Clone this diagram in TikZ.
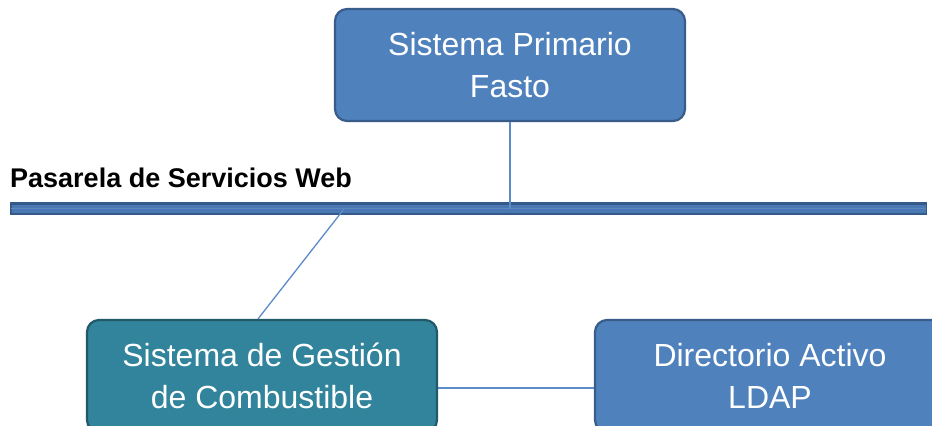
\documentclass[tikz,border=0pt]{standalone}
\usepackage{fontspec}
\setmainfont{Liberation Sans}
\definecolor{boxblue}{HTML}{4F81BD}
\definecolor{boxblueline}{HTML}{385D8A}
\definecolor{boxteal}{HTML}{31849B}
\definecolor{boxtealline}{HTML}{215968}
\definecolor{linkblue}{HTML}{5B8BC9}
\definecolor{bardark}{HTML}{345A8A}
\definecolor{barmid}{HTML}{4A78B2}
\definecolor{barlight}{HTML}{5C88C0}
\tikzset{
  sysbox/.style={rectangle, rounded corners=12bp, minimum width=350bp, minimum height=112bp,
    inner sep=0pt, line width=2.2bp, text=white, align=center,
    font=\fontsize{32bp}{42bp}\selectfont},
  bluebox/.style={sysbox, fill=boxblue, draw=boxblueline},
  tealbox/.style={sysbox, fill=boxteal, draw=boxtealline},
  link/.style={draw=linkblue, line width=1.3bp},
}
\begin{document}
\begin{tikzpicture}[x=1bp,y=-1bp]
\useasboundingbox (0,0) rectangle (932,425);
\clip (0,0) rectangle (932,425);
\fill[white] (0,0) rectangle (932,425);
% bar
\coordinate (barL) at (11,208.5);
\coordinate (barR) at (926,208.5);
\coordinate (barA) at (510,209);
\coordinate (barB) at (344,209);
\fill[bardark] (10,202) rectangle (927,215);
\fill[barmid] (11.5,204.5) rectangle (925.5,212.5);
\draw[line width=0.7bp, draw=barlight] (barL) -- (barR);
\node[anchor=base west, inner sep=0pt, font=\fontsize{27bp}{30bp}\selectfont\bfseries] (gw) at (10,187) {Pasarela de Servicios Web};
% boxes
\node[bluebox] (fasto) at (510,65) {Sistema Primario\\Fasto};
\node[tealbox] (sgc) at (262,376) {Sistema de Gestión\\de Combustible};
\node[bluebox] (ldap) at (770,376) {Directorio Activo\\LDAP};
% connectors
\draw[link] (fasto.south) -- (barA);
\draw[link] (barB) -- ([xshift=-4bp]sgc.north);
\draw[link] (sgc.east |- 0,388) -- (ldap.west |- 0,388);
\end{tikzpicture}
\end{document}
